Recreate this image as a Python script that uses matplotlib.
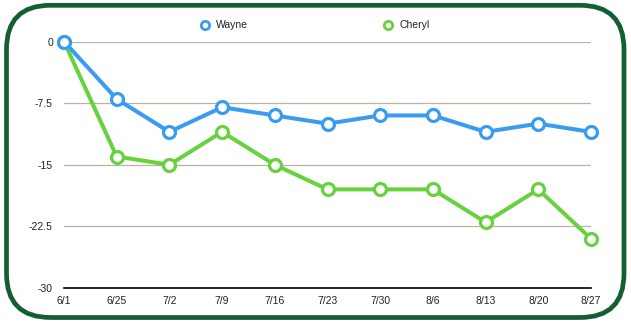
import matplotlib
matplotlib.use("Agg")
import matplotlib.pyplot as plt
from matplotlib.patches import FancyBboxPatch
from matplotlib.lines import Line2D

plt.rcParams["font.family"] = ["Liberation Sans", "DejaVu Sans"]

dates = ["6/1", "6/25", "7/2", "7/9", "7/16", "7/23", "7/30", "8/6", "8/13", "8/20", "8/27"]
wayne = [0, -7, -11, -8, -9, -10, -9, -9, -11, -10, -11]
cheryl = [0, -14, -15, -11, -15, -18, -18, -18, -22, -18, -24]
yticks = [0, -7.5, -15, -22.5, -30]
ytick_labels = ["0", "-7.5", "-15", "-22.5", "-30"]

BLUE = "#3a9cf0"
GREEN = "#67d23e"
FRAME = "#135f32"
GRID = "#bdb49f"

W, H = 631, 326
fig = plt.figure(figsize=(W / 100, H / 100), dpi=100)
fig.patch.set_facecolor("white")

# rounded frame (in inches)
frame = FancyBboxPatch((6.5 / 100, (H - 317.5) / 100), (624 - 6.5) / 100, (317.5 - 5.3) / 100,
                       boxstyle="round,pad=0,rounding_size=0.44",
                       transform=fig.dpi_scale_trans, facecolor="white",
                       edgecolor=FRAME, linewidth=3.4, zorder=0)
fig.add_artist(frame)

ax = fig.add_axes([64 / W, 38 / H, 527 / W, 246.5 / H])
ax.set_facecolor("none")
x = list(range(len(dates)))

for yv in yticks[:-1]:
    ax.axhline(yv, color=GRID, linewidth=0.9, zorder=1)

common = dict(linewidth=2.9, marker="o", markersize=8.6, markerfacecolor="white",
              markeredgewidth=2.3, clip_on=False)
ax.plot(x, cheryl, color=GREEN, zorder=3, **common)
ax.plot(x, wayne, color=BLUE, zorder=4, **common)

ax.set_xlim(0, len(dates) - 1)
ax.set_ylim(-30, 0)
ax.set_xticks(x)
ax.set_xticklabels(dates)
ax.set_yticks(yticks)
ax.set_yticklabels(ytick_labels)
ax.tick_params(axis="both", length=0, labelsize=7.5, colors="#222222")
ax.tick_params(axis="y", pad=8)
ax.tick_params(axis="x", pad=6)
for s in ["top", "right", "left"]:
    ax.spines[s].set_visible(False)
ax.spines["bottom"].set_color("black")
ax.spines["bottom"].set_linewidth(1.2)

# legend
for mx, tx, col, name in [(205, 216, BLUE, "Wayne"), (388, 400, GREEN, "Cheryl")]:
    fig.add_artist(Line2D([mx / W], [1 - 24.5 / H], transform=fig.transFigure, marker="o",
                          markersize=6, markerfacecolor="white", markeredgecolor=col,
                          markeredgewidth=2, linestyle="none"))
    fig.text(tx / W, 1 - 24.5 / H, name, fontsize=7.5, color="#222222", va="center", ha="left")

fig.savefig("out.png", dpi=100)
